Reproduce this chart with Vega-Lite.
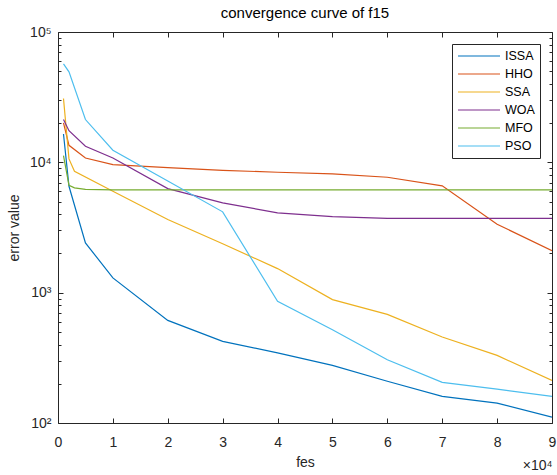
{
  "$schema": "https://vega.github.io/schema/vega-lite/v6.json",
  "autosize": {"type": "none"},
  "width": 494,
  "height": 391,
  "padding": {"left": 58, "top": 32, "right": 5, "bottom": 52},
  "background": "white",
  "title": {"text": "convergence curve of f15", "font": "Liberation Sans", "fontSize": 15, "fontWeight": "normal", "color": "#000000", "offset": 4},
  "config": {
    "view": {"stroke": null},
    "axis": {"domainColor": "#262626", "tickColor": "#262626", "labelColor": "#262626", "titleColor": "#262626", "labelFont": "Liberation Sans", "titleFont": "Liberation Sans", "labelFontSize": 14, "titleFontSize": 14, "titleFontWeight": "normal", "grid": false, "domainWidth": 1, "tickWidth": 1},
    "legend": {"labelFont": "Liberation Sans", "labelFontSize": 12.5, "labelColor": "#000000"}
  },
  "data": {"values": [
    {"alg": "ISSA", "fes": 1000, "err": 16500},
    {"alg": "ISSA", "fes": 2000, "err": 6550},
    {"alg": "ISSA", "fes": 5000, "err": 2410},
    {"alg": "ISSA", "fes": 10000, "err": 1298},
    {"alg": "ISSA", "fes": 20000, "err": 613},
    {"alg": "ISSA", "fes": 30000, "err": 423},
    {"alg": "ISSA", "fes": 40000, "err": 345},
    {"alg": "ISSA", "fes": 50000, "err": 277},
    {"alg": "ISSA", "fes": 60000, "err": 209},
    {"alg": "ISSA", "fes": 70000, "err": 160},
    {"alg": "ISSA", "fes": 80000, "err": 142},
    {"alg": "ISSA", "fes": 90000, "err": 111},
    {"alg": "HHO", "fes": 1000, "err": 20100},
    {"alg": "HHO", "fes": 2000, "err": 13500},
    {"alg": "HHO", "fes": 5000, "err": 10800},
    {"alg": "HHO", "fes": 10000, "err": 9610},
    {"alg": "HHO", "fes": 20000, "err": 9120},
    {"alg": "HHO", "fes": 30000, "err": 8690},
    {"alg": "HHO", "fes": 40000, "err": 8390},
    {"alg": "HHO", "fes": 50000, "err": 8160},
    {"alg": "HHO", "fes": 60000, "err": 7680},
    {"alg": "HHO", "fes": 70000, "err": 6600},
    {"alg": "HHO", "fes": 80000, "err": 3350},
    {"alg": "HHO", "fes": 90000, "err": 2100},
    {"alg": "SSA", "fes": 1000, "err": 30900},
    {"alg": "SSA", "fes": 2000, "err": 10630},
    {"alg": "SSA", "fes": 3000, "err": 8540},
    {"alg": "SSA", "fes": 10000, "err": 6000},
    {"alg": "SSA", "fes": 20000, "err": 3640},
    {"alg": "SSA", "fes": 30000, "err": 2370},
    {"alg": "SSA", "fes": 40000, "err": 1530},
    {"alg": "SSA", "fes": 50000, "err": 884},
    {"alg": "SSA", "fes": 60000, "err": 682},
    {"alg": "SSA", "fes": 70000, "err": 457},
    {"alg": "SSA", "fes": 80000, "err": 330},
    {"alg": "SSA", "fes": 90000, "err": 212},
    {"alg": "WOA", "fes": 1000, "err": 21300},
    {"alg": "WOA", "fes": 2000, "err": 17500},
    {"alg": "WOA", "fes": 5000, "err": 13300},
    {"alg": "WOA", "fes": 10000, "err": 10800},
    {"alg": "WOA", "fes": 20000, "err": 6290},
    {"alg": "WOA", "fes": 30000, "err": 4890},
    {"alg": "WOA", "fes": 40000, "err": 4100},
    {"alg": "WOA", "fes": 50000, "err": 3835},
    {"alg": "WOA", "fes": 60000, "err": 3720},
    {"alg": "WOA", "fes": 70000, "err": 3720},
    {"alg": "WOA", "fes": 80000, "err": 3720},
    {"alg": "WOA", "fes": 90000, "err": 3720},
    {"alg": "MFO", "fes": 1000, "err": 11270},
    {"alg": "MFO", "fes": 2000, "err": 6670},
    {"alg": "MFO", "fes": 3000, "err": 6370},
    {"alg": "MFO", "fes": 5000, "err": 6200},
    {"alg": "MFO", "fes": 10000, "err": 6150},
    {"alg": "MFO", "fes": 20000, "err": 6150},
    {"alg": "MFO", "fes": 30000, "err": 6150},
    {"alg": "MFO", "fes": 40000, "err": 6150},
    {"alg": "MFO", "fes": 50000, "err": 6150},
    {"alg": "MFO", "fes": 60000, "err": 6150},
    {"alg": "MFO", "fes": 70000, "err": 6150},
    {"alg": "MFO", "fes": 80000, "err": 6150},
    {"alg": "MFO", "fes": 90000, "err": 6150},
    {"alg": "PSO", "fes": 1000, "err": 57000},
    {"alg": "PSO", "fes": 2000, "err": 49500},
    {"alg": "PSO", "fes": 5000, "err": 21300},
    {"alg": "PSO", "fes": 10000, "err": 12380},
    {"alg": "PSO", "fes": 20000, "err": 7180},
    {"alg": "PSO", "fes": 30000, "err": 4170},
    {"alg": "PSO", "fes": 40000, "err": 858},
    {"alg": "PSO", "fes": 50000, "err": 520},
    {"alg": "PSO", "fes": 60000, "err": 306},
    {"alg": "PSO", "fes": 70000, "err": 205},
    {"alg": "PSO", "fes": 80000, "err": 182},
    {"alg": "PSO", "fes": 90000, "err": 160}
  ]},
  "layer": [
    {
      "mark": {"type": "line", "strokeWidth": 1.2, "clip": true},
      "encoding": {
        "x": {"field": "fes", "type": "quantitative", "scale": {"domain": [0, 90000], "nice": false, "zero": false},
          "axis": {"orient": "bottom", "values": [0, 10000, 20000, 30000, 40000, 50000, 60000, 70000, 80000, 90000], "labelExpr": "format(datum.value / 10000, 'd')", "title": "fes", "tickSize": -5, "labelPadding": 17, "titlePadding": 6, "labelFlush": false}},
        "y": {"field": "err", "type": "quantitative", "scale": {"type": "log", "domain": [100, 100000], "nice": false},
          "axis": {"orient": "left", "values": [100, 200, 300, 400, 500, 600, 700, 800, 900, 1000, 2000, 3000, 4000, 5000, 6000, 7000, 8000, 9000, 10000, 20000, 30000, 40000, 50000, 60000, 70000, 80000, 90000, 100000],
            "labelExpr": "datum.value == 100000 ? '10⁵' : datum.value == 10000 ? '10⁴' : datum.value == 1000 ? '10³' : datum.value == 100 ? '10²' : ''",
            "tickSize": {"condition": {"test": "datum.value == 100 || datum.value == 1000 || datum.value == 10000 || datum.value == 100000", "value": -5}, "value": -3},
            "labelPadding": 12, "labelFlush": false, "title": "error value", "titlePadding": 8}},
        "color": {"field": "alg", "type": "nominal",
          "scale": {"domain": ["ISSA", "HHO", "SSA", "WOA", "MFO", "PSO"], "range": ["#0072BD", "#D95319", "#EDB120", "#7E2F8E", "#77AC30", "#4DBEEE"]},
          "legend": {"title": null, "orient": "top-right", "offset": 12, "strokeColor": "#262626", "fillColor": "white", "padding": 5, "symbolType": "M-3.5,0H3.5", "symbolSize": 144, "symbolOffset": 15, "symbolStrokeWidth": 1.2, "rowPadding": 4, "labelOffset": 19}}
      }
    },
    {
      "mark": {"type": "point", "opacity": 0},
      "encoding": {
        "x": {"field": "fes", "type": "quantitative",
          "axis": {"orient": "top", "values": [0, 10000, 20000, 30000, 40000, 50000, 60000, 70000, 80000, 90000], "labels": false, "title": null, "tickSize": -5}},
        "y": {"field": "err", "type": "quantitative",
          "axis": {"orient": "right", "values": [100, 200, 300, 400, 500, 600, 700, 800, 900, 1000, 2000, 3000, 4000, 5000, 6000, 7000, 8000, 9000, 10000, 20000, 30000, 40000, 50000, 60000, 70000, 80000, 90000, 100000], "labels": false, "title": null,
            "tickSize": {"condition": {"test": "datum.value == 100 || datum.value == 1000 || datum.value == 10000 || datum.value == 100000", "value": -5}, "value": -3}}}
      }
    },
    {
      "mark": {"type": "point", "opacity": 0},
      "encoding": {
        "x": {"field": "fes", "type": "quantitative",
          "axis": {"orient": "bottom", "labels": false, "ticks": false, "domain": false, "title": "×10⁴", "titleX": 494, "titleY": 46, "titleAlign": "right", "titleBaseline": "alphabetic", "titleFontSize": 14}},
        "y": {"field": "err", "type": "quantitative", "axis": null}
      }
    }
  ],
  "resolve": {"axis": {"x": "independent", "y": "independent"}}
}
